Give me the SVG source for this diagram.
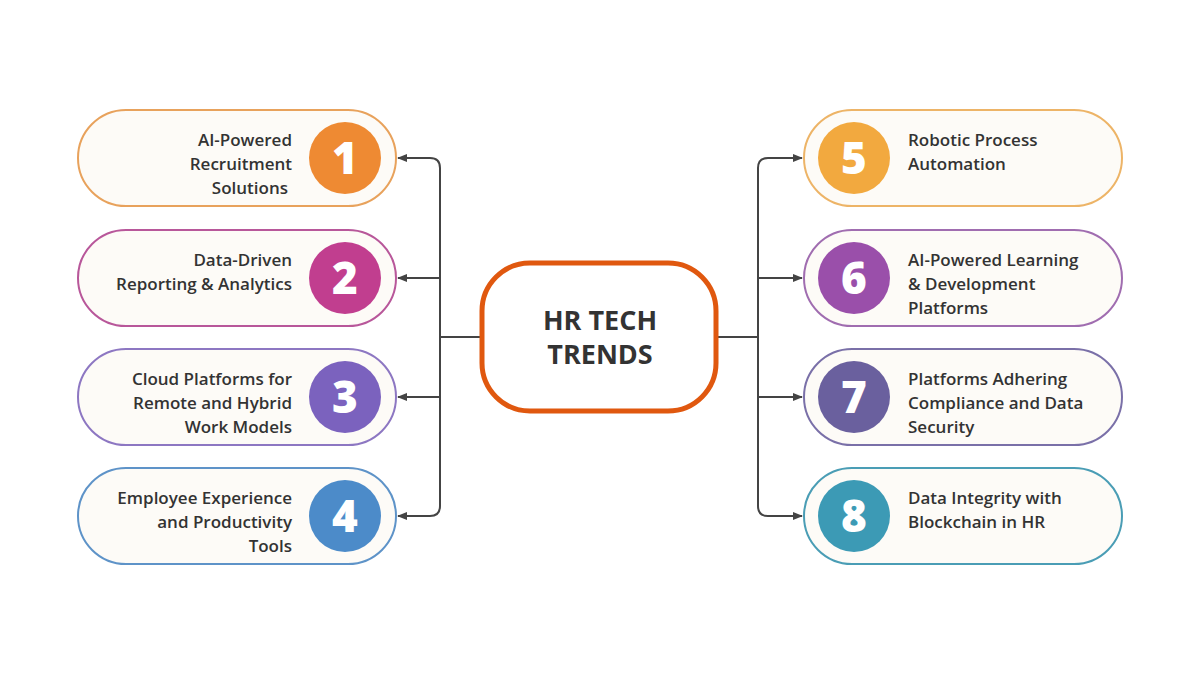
<svg xmlns="http://www.w3.org/2000/svg" width="1200" height="675" viewBox="0 0 1200 675">
<style>
.pill{fill:#FDFBF7;stroke-width:2}
.t{font-family:"Open Sans","Liberation Sans",sans-serif;font-weight:600;font-size:17px;fill:#333}
.l{text-anchor:end}
.n{font-family:"Open Sans","Liberation Sans",sans-serif;font-weight:800;font-size:44px;fill:#fff;text-anchor:middle}
.c{fill:none;stroke:#444;stroke-width:2}
</style>
<defs><marker id="a" viewBox="0 0 10 10" refX="9" refY="5" markerWidth="5" markerHeight="5" orient="auto"><path d="M0,1 L10,5 L0,9z" fill="#444"/></marker></defs>
<rect width="1200" height="675" fill="#fff"/>
<g id="connectors">
<path class="c" d="M481,337 H440"/>
<path class="c" d="M440,337 V168 Q440,158 430,158 H398" marker-end="url(#a)"/>
<path class="c" d="M440,278 H398" marker-end="url(#a)"/>
<path class="c" d="M440,397 H398" marker-end="url(#a)"/>
<path class="c" d="M440,337 V506 Q440,516 430,516 H398" marker-end="url(#a)"/>
<path class="c" d="M717,337 H758"/>
<path class="c" d="M758,337 V168 Q758,158 768,158 H802" marker-end="url(#a)"/>
<path class="c" d="M758,278 H802" marker-end="url(#a)"/>
<path class="c" d="M758,397 H802" marker-end="url(#a)"/>
<path class="c" d="M758,337 V506 Q758,516 768,516 H802" marker-end="url(#a)"/>
</g>
<g id="center"><rect x="482" y="263" width="234" height="148" rx="48" fill="#fff" stroke="#E0580F" stroke-width="5"/>
<text x="600" y="330" text-anchor="middle" font-family="'Open Sans','Liberation Sans',sans-serif" font-weight="700" font-size="27" fill="#333">HR TECH</text>
<text x="600" y="364" text-anchor="middle" font-family="'Open Sans','Liberation Sans',sans-serif" font-weight="700" font-size="27" fill="#333">TRENDS</text></g>
<g id="n1"><rect class="pill" x="78" y="110" width="318" height="96" rx="48" stroke="#E8A25C"/><circle cx="345" cy="158" r="36" fill="#EE8A33"/><text class="n" x="345" y="174">1</text>
<text class="t l" x="292" y="146">AI-Powered</text><text class="t l" x="292" y="170">Recruitment</text><text class="t l" x="288" y="194">Solutions</text></g>
<g id="n2"><rect class="pill" x="78" y="230" width="318" height="96" rx="48" stroke="#B8579A"/><circle cx="345" cy="278" r="36" fill="#C13E8F"/><text class="n" x="345" y="294">2</text>
<text class="t l" x="292" y="266">Data-Driven</text><text class="t l" x="292" y="290">Reporting &amp; Analytics</text></g>
<g id="n3"><rect class="pill" x="78" y="349" width="318" height="96" rx="48" stroke="#8D77C2"/><circle cx="345" cy="397" r="36" fill="#7B62BE"/><text class="n" x="345" y="413">3</text>
<text class="t l" x="292" y="385">Cloud Platforms for</text><text class="t l" x="292" y="409">Remote and Hybrid</text><text class="t l" x="292" y="433">Work Models</text></g>
<g id="n4"><rect class="pill" x="78" y="468" width="318" height="96" rx="48" stroke="#5E93C8"/><circle cx="345" cy="516" r="36" fill="#4C8BC9"/><text class="n" x="345" y="532">4</text>
<text class="t l" x="292" y="504">Employee Experience</text><text class="t l" x="292" y="528">and Productivity</text><text class="t l" x="292" y="552">Tools</text></g>
<g id="n5"><rect class="pill" x="804" y="110" width="318" height="96" rx="48" stroke="#EDB467"/><circle cx="854" cy="158" r="36" fill="#F2A93F"/><text class="n" x="854" y="174">5</text>
<text class="t" x="908" y="146">Robotic Process</text><text class="t" x="908" y="170">Automation</text></g>
<g id="n6"><rect class="pill" x="804" y="230" width="318" height="96" rx="48" stroke="#A06DB0"/><circle cx="854" cy="278" r="36" fill="#9A4FAA"/><text class="n" x="854" y="294">6</text>
<text class="t" x="908" y="266">AI-Powered Learning</text><text class="t" x="908" y="290">&amp; Development</text><text class="t" x="908" y="314">Platforms</text></g>
<g id="n7"><rect class="pill" x="804" y="349" width="318" height="96" rx="48" stroke="#7A70A8"/><circle cx="854" cy="397" r="36" fill="#6A609E"/><text class="n" x="854" y="413">7</text>
<text class="t" x="908" y="385">Platforms Adhering</text><text class="t" x="908" y="409">Compliance and Data</text><text class="t" x="908" y="433">Security</text></g>
<g id="n8"><rect class="pill" x="804" y="468" width="318" height="96" rx="48" stroke="#4A9DB5"/><circle cx="854" cy="516" r="36" fill="#3C9AB5"/><text class="n" x="854" y="532">8</text>
<text class="t" x="908" y="504">Data Integrity with</text><text class="t" x="908" y="528">Blockchain in HR</text></g>
</svg>
